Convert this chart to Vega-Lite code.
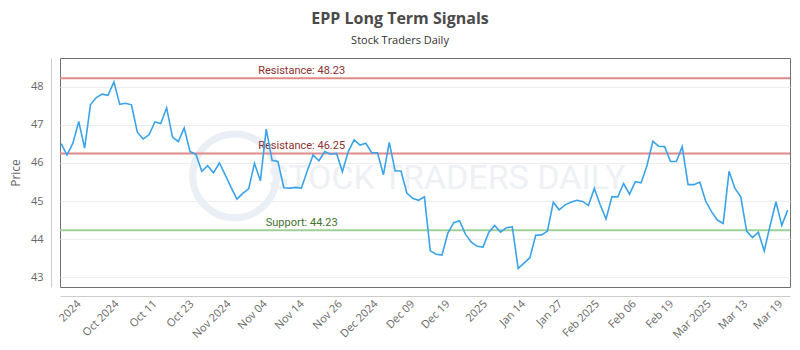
{
  "$schema": "https://vega.github.io/schema/vega-lite/v6.json",
  "width": 730,
  "height": 229,
  "autosize": {"type": "none"},
  "padding": {"left": 60, "top": 58, "right": 10, "bottom": 63},
  "background": "white",
  "title": {
    "text": "EPP Long Term Signals",
    "subtitle": "Stock Traders Daily",
    "anchor": "middle",
    "dx": -25,
    "font": "Open Sans",
    "fontSize": 16,
    "fontWeight": "bold",
    "color": "#4a4a4a",
    "subtitleFont": "Open Sans",
    "subtitleFontSize": 11,
    "subtitleColor": "#333333",
    "subtitlePadding": 8,
    "offset": 12
  },
  "config": {
    "view": {"stroke": "#707070", "strokeWidth": 1}
  },
  "resolve": {"scale": {"color": "independent"}},
  "datasets": {
    "prices": [
      {"i": 0, "price": 46.51}, {"i": 1, "price": 46.21}, {"i": 2, "price": 46.52}, {"i": 3, "price": 47.09},
      {"i": 4, "price": 46.39}, {"i": 5, "price": 47.53}, {"i": 6, "price": 47.72}, {"i": 7, "price": 47.81},
      {"i": 8, "price": 47.78}, {"i": 9, "price": 48.13}, {"i": 10, "price": 47.54}, {"i": 11, "price": 47.57},
      {"i": 12, "price": 47.53}, {"i": 13, "price": 46.81}, {"i": 14, "price": 46.63}, {"i": 15, "price": 46.74},
      {"i": 16, "price": 47.08}, {"i": 17, "price": 47.04}, {"i": 18, "price": 47.45}, {"i": 19, "price": 46.68},
      {"i": 20, "price": 46.56}, {"i": 21, "price": 46.92}, {"i": 22, "price": 46.30}, {"i": 23, "price": 46.23},
      {"i": 24, "price": 45.78}, {"i": 25, "price": 45.93}, {"i": 26, "price": 45.74}, {"i": 27, "price": 46.00},
      {"i": 28, "price": 45.69}, {"i": 29, "price": 45.36}, {"i": 30, "price": 45.05}, {"i": 31, "price": 45.20},
      {"i": 32, "price": 45.32}, {"i": 33, "price": 45.99}, {"i": 34, "price": 45.53}, {"i": 35, "price": 46.89},
      {"i": 36, "price": 46.07}, {"i": 37, "price": 46.04}, {"i": 38, "price": 45.35}, {"i": 39, "price": 45.34},
      {"i": 40, "price": 45.36}, {"i": 41, "price": 45.34}, {"i": 42, "price": 45.79}, {"i": 43, "price": 46.21},
      {"i": 44, "price": 46.06}, {"i": 45, "price": 46.30}, {"i": 46, "price": 46.23}, {"i": 47, "price": 46.25},
      {"i": 48, "price": 45.77}, {"i": 49, "price": 46.30}, {"i": 50, "price": 46.61}, {"i": 51, "price": 46.47},
      {"i": 52, "price": 46.52}, {"i": 53, "price": 46.27}, {"i": 54, "price": 46.27}, {"i": 55, "price": 45.69},
      {"i": 56, "price": 46.54}, {"i": 57, "price": 45.79}, {"i": 58, "price": 45.79}, {"i": 59, "price": 45.21},
      {"i": 60, "price": 45.07}, {"i": 61, "price": 45.02}, {"i": 62, "price": 45.11}, {"i": 63, "price": 43.69},
      {"i": 64, "price": 43.60}, {"i": 65, "price": 43.58}, {"i": 66, "price": 44.16}, {"i": 67, "price": 44.43},
      {"i": 68, "price": 44.48}, {"i": 69, "price": 44.13}, {"i": 70, "price": 43.92}, {"i": 71, "price": 43.81},
      {"i": 72, "price": 43.79}, {"i": 73, "price": 44.18}, {"i": 74, "price": 44.36}, {"i": 75, "price": 44.18},
      {"i": 76, "price": 44.30}, {"i": 77, "price": 44.32}, {"i": 78, "price": 43.23}, {"i": 79, "price": 43.37},
      {"i": 80, "price": 43.51}, {"i": 81, "price": 44.10}, {"i": 82, "price": 44.11}, {"i": 83, "price": 44.21},
      {"i": 84, "price": 44.97}, {"i": 85, "price": 44.77}, {"i": 86, "price": 44.90}, {"i": 87, "price": 44.97},
      {"i": 88, "price": 45.02}, {"i": 89, "price": 44.99}, {"i": 90, "price": 44.88}, {"i": 91, "price": 45.33},
      {"i": 92, "price": 44.90}, {"i": 93, "price": 44.53}, {"i": 94, "price": 45.11}, {"i": 95, "price": 45.11},
      {"i": 96, "price": 45.46}, {"i": 97, "price": 45.18}, {"i": 98, "price": 45.51}, {"i": 99, "price": 45.48},
      {"i": 100, "price": 45.94}, {"i": 101, "price": 46.57}, {"i": 102, "price": 46.44}, {"i": 103, "price": 46.43},
      {"i": 104, "price": 46.04}, {"i": 105, "price": 46.04}, {"i": 106, "price": 46.43}, {"i": 107, "price": 45.43},
      {"i": 108, "price": 45.43}, {"i": 109, "price": 45.50}, {"i": 110, "price": 45.00}, {"i": 111, "price": 44.72},
      {"i": 112, "price": 44.50}, {"i": 113, "price": 44.41}, {"i": 114, "price": 45.78}, {"i": 115, "price": 45.33},
      {"i": 116, "price": 45.11}, {"i": 117, "price": 44.21}, {"i": 118, "price": 44.04}, {"i": 119, "price": 44.18},
      {"i": 120, "price": 43.69}, {"i": 121, "price": 44.35}, {"i": 122, "price": 44.98}, {"i": 123, "price": 44.36},
      {"i": 124, "price": 44.76}
    ],
    "levels": [
      {"kind": "Resistance", "value": 48.23, "label": "Resistance: 48.23"},
      {"kind": "Resistance", "value": 46.25, "label": "Resistance: 46.25"},
      {"kind": "Support", "value": 44.23, "label": "Support: 44.23"}
    ],
    "watermark": [
      {"text": "STOCK TRADERS DAILY"}
    ]
  },
  "encoding": {
    "x": {
      "type": "quantitative",
      "scale": {"domain": [-0.2, 124.4], "nice": false, "zero": false},
      "axis": {
        "title": null,
        "values": [3, 9.5, 16, 22.3, 28.6, 34.8, 41.1, 47.6, 53.7, 60, 66, 72.4, 78.9, 85.2, 91.5, 97.8, 104.2, 110.6, 116.8, 122.8],
        "labelExpr": "['2024','Oct 2024','Oct 11','Oct 23','Nov 2024','Nov 04','Nov 14','Nov 26','Dec 2024','Dec 09','Dec 19','2025','Jan 14','Jan 27','Feb 2025','Feb 06','Feb 19','Mar 2025','Mar 13','Mar 19'][round((datum.value-3)/6.3)]",
        "labelAngle": -45,
        "labelAlign": "right",
        "labelBaseline": "middle",
        "labelFont": "Open Sans",
        "labelFontSize": 11,
        "labelColor": "#666666",
        "labelPadding": 6,
        "labelOverlap": false,
        "labelFlush": false,
        "domainColor": "#cccccc",
        "ticks": false,
        "grid": false,
        "offset": 9
      }
    },
    "y": {
      "type": "quantitative",
      "scale": {"domain": [42.74, 48.76], "nice": false, "zero": false},
      "axis": {
        "title": "Price",
        "values": [43, 44, 45, 46, 47, 48],
        "grid": true,
        "gridColor": "#ececec",
        "ticks": false,
        "domainColor": "#cccccc",
        "offset": 9,
        "labelPadding": 8,
        "labelFont": "Open Sans",
        "labelFontSize": 11,
        "labelColor": "#666666",
        "titleFont": "Open Sans",
        "titleFontSize": 12,
        "titleFontWeight": "normal",
        "titleColor": "#666666",
        "titlePadding": 8
      }
    }
  },
  "layer": [
    {
      "data": {"name": "watermark"},
      "mark": {"type": "point", "shape": "circle", "filled": false, "size": 7000, "strokeWidth": 7, "color": "#e9eff5", "opacity": 1},
      "encoding": {"x": {"datum": 29.6}, "y": {"datum": 45.66}}
    },
    {
      "data": {"name": "watermark"},
      "mark": {"type": "text", "font": "Roboto", "fontSize": 34, "fontWeight": "normal", "color": "#edf1f5", "align": "center", "baseline": "middle"},
      "encoding": {"x": {"datum": 65.8}, "y": {"datum": 45.58}, "text": {"field": "text"}}
    },
    {
      "data": {"name": "levels"},
      "mark": {"type": "rule", "strokeWidth": 2},
      "encoding": {
        "y": {"field": "value", "type": "quantitative"},
        "color": {"field": "kind", "type": "nominal", "scale": {"domain": ["Resistance", "Support"], "range": ["#e08a8a", "#9fd09a"]}, "legend": null}
      }
    },
    {
      "data": {"name": "levels"},
      "mark": {"type": "text", "font": "Roboto", "fontSize": 11, "align": "center", "baseline": "bottom", "dy": -2},
      "encoding": {
        "x": {"datum": 41.05},
        "y": {"field": "value", "type": "quantitative"},
        "text": {"field": "label"},
        "fill": {"field": "kind", "type": "nominal", "scale": {"domain": ["Resistance", "Support"], "range": ["#8e2f2f", "#3f7230"]}, "legend": null}
      }
    },
    {
      "data": {"name": "prices"},
      "mark": {"type": "line", "color": "#3aa3ea", "strokeWidth": 1.6},
      "encoding": {
        "x": {"field": "i", "type": "quantitative"},
        "y": {"field": "price", "type": "quantitative"}
      }
    }
  ]
}
